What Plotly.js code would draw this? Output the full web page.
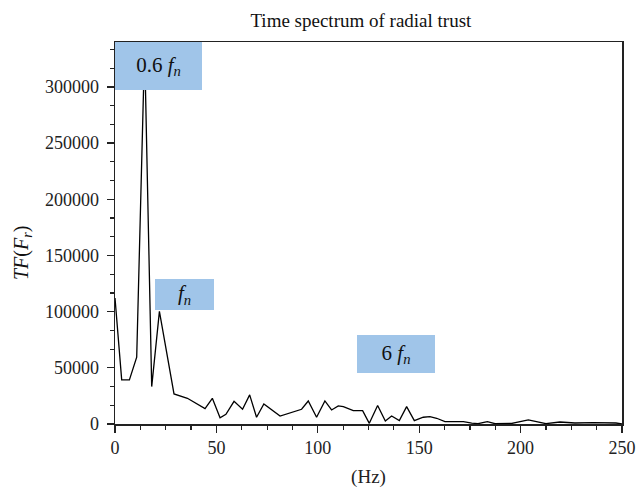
<!DOCTYPE html>
<html>
<head>
<meta charset="utf-8">
<script src="https://cdn.plot.ly/plotly-3.0.1.min.js"></script>
<style>html,body{margin:0;padding:0;background:#fff;}#chart{width:637px;height:492px;}</style>
</head>
<body>
<div id="chart"></div>
<script>
// Frequency (Hz)
const freq = [0, 3.3, 7.1, 10.7, 14.6, 18.1, 21.9, 29.1, 35.7, 44.4, 48.0, 51.8, 54.7, 58.7, 62.9, 66.4, 69.8, 73.4, 81.4,
  92.0, 95.3, 99.4, 103.5, 106.8, 110.1, 112.6, 117.5, 122.1, 125.4, 129.5, 133.3, 136.4, 140.2, 143.8, 147.6,
  152.0, 155.3, 158.6, 162.7, 171.8, 175.9, 179.0, 183.6, 187.4, 195.6, 203.8, 212.5, 219.4, 226.8, 235.8, 247.0, 250.0];
// TF(F_r) amplitude
const amp = [112200, 39300, 39300, 59500, 335000, 33300, 100300, 26800, 22900, 13700, 22900, 5600, 8600, 20200, 13100, 25900, 6000, 17900, 7100,
  13100, 20500, 6000, 20500, 12500, 16100, 15500, 11900, 11900, 600, 16400, 2700, 7100, 3000, 15500, 3000,
  6000, 6500, 5100, 2100, 2100, 800, 300, 2100, 300, 500, 3600, 300, 1800, 900, 1200, 900, 0];

const labels = ["0.6 <i>f<sub>n</sub></i>", "<i>f<sub>n</sub></i>", "6 <i>f<sub>n</sub></i>"];
const labelX = [21.4, 34.3, 138.6];
const labelY = [318750, 115650, 62650];
const labelW = [87, 59, 78];
const labelH = [48, 31, 38];

const serif = "Liberation Serif, Times New Roman, serif";

const annotations = labels.map((t, i) => ({
  text: t, x: labelX[i], y: labelY[i], xref: 'x', yref: 'y',
  xanchor: 'center', yanchor: 'middle', showarrow: false,
  bgcolor: '#a0c5e9', width: labelW[i], height: labelH[i], borderpad: 0, borderwidth: 0,
  font: {family: serif, size: 21, color: '#111'}
}));
annotations.push({
  text: "<i>TF</i>(<i>F<sub>r</sub></i>)", xref: 'paper', yref: 'paper',
  x: -0.1834, y: 0.4476, xanchor: 'center', yanchor: 'middle', textangle: -90,
  showarrow: false, font: {family: serif, size: 20, color: '#111'}
});

const trace = {
  x: freq, y: amp, type: 'scatter', mode: 'lines',
  line: {color: '#000', width: 1.3}, hoverinfo: 'skip', showlegend: false
};

const axisCommon = {
  showgrid: false, zeroline: false, showline: true, linecolor: '#222', linewidth: 1.5,
  mirror: true, ticks: 'outside', ticklen: 7, tickwidth: 1.3, tickcolor: '#222',
  tickfont: {family: serif, size: 18, color: '#222'}
};

const layout = {
  width: 637, height: 492,
  margin: {l: 115, r: 15, t: 42, b: 68},
  paper_bgcolor: '#fff', plot_bgcolor: '#fff',
  title: {text: 'Time spectrum of radial trust', font: {family: serif, size: 19, color: '#111'},
    xref: 'paper', x: 0.485, xanchor: 'center', yref: 'container', y: 1 - 20/492, yanchor: 'middle'},
  xaxis: Object.assign({}, axisCommon, {
    range: [0, 250], tick0: 0, dtick: 50,
    minor: {dtick: 12.5, ticks: 'outside', ticklen: 4, tickwidth: 1.2, tickcolor: '#222', showgrid: false},
    title: {text: '(Hz)', font: {family: serif, size: 19, color: '#222'}, standoff: 12}
  }),
  yaxis: Object.assign({}, axisCommon, {
    range: [0, 340000], tick0: 0, dtick: 50000, ticklabelstandoff: 4,
    tickformat: 'd', separatethousands: false, exponentformat: 'none',
    minor: {dtick: 50000/3, ticks: 'outside', ticklen: 4, tickwidth: 1.2, tickcolor: '#222', showgrid: false}
  }),
  annotations: annotations
};

Plotly.newPlot('chart', [trace], layout, {displayModeBar: false, staticPlot: true});
</script>
</body>
</html>
